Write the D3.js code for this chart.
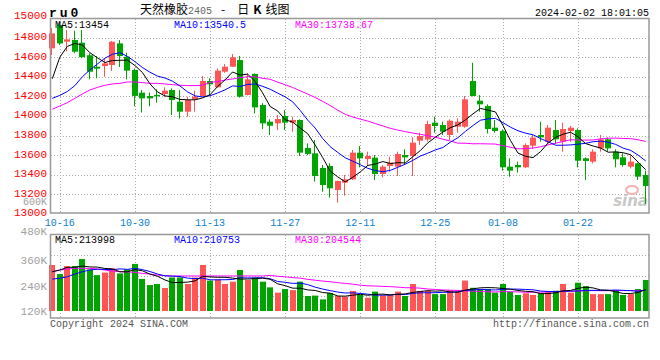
<!DOCTYPE html>
<html>
<head>
<meta charset="utf-8">
<script src="https://cdn.jsdelivr.net/npm/d3@7/dist/d3.min.js"></script>
<style>
body { margin: 0; background: #fff; }
svg { display: block; }
</style>
</head>
<body>
<svg id="chart" width="660" height="360"></svg>
<script>
// trading days shown on the chart
const dates = [
    '10-13','10-16','10-17','10-18','10-19','10-20','10-23','10-24','10-25','10-26',
    '10-27','10-30','10-31','11-01','11-02','11-03','11-06','11-07','11-08','11-09',
    '11-10','11-13','11-14','11-15','11-16','11-17','11-20','11-21','11-22','11-23',
    '11-24','11-27','11-28','11-29','11-30','12-01','12-04','12-05','12-06','12-07',
    '12-08','12-11','12-12','12-13','12-14','12-15','12-18','12-19','12-20','12-21',
    '12-22','12-25','12-26','12-27','12-28','12-29','01-02','01-03','01-04','01-05',
    '01-08','01-09','01-10','01-11','01-12','01-15','01-16','01-17','01-18','01-19',
    '01-22','01-23','01-24','01-25','01-26','01-29','01-30','01-31','02-01','02-02'
];

const opens = [
    14690,14928,14758,14776,14748,14620,14503,14510,14520,14741,
    14605,14470,14238,14204,14215,14224,14265,14146,14044,14170,
    14204,14357,14293,14452,14503,14571,14214,14429,14112,13942,
    13925,14000,13932,13959,13674,13619,13470,13490,13245,13320,
    13354,13626,13561,13575,13408,13490,13483,13602,13592,13748,
    13760,13932,13908,13806,13891,13891,14357,14156,14102,13881,
    13847,13483,13500,13476,13697,13806,13738,13857,13738,13847,
    13857,13568,13534,13670,13762,13636,13578,13483,13517,13398
];
const closes = [
    14843,14741,14782,14656,14600,14452,14483,14537,14758,14612,
    14463,14205,14180,14180,14200,14258,14163,14044,14163,14197,
    14357,14323,14463,14503,14599,14197,14374,14088,13925,13901,
    13969,13932,13959,13626,13612,13388,13296,13262,13337,13354,
    13626,13568,13592,13408,13483,13524,13612,13578,13728,13796,
    13918,13898,13840,13952,13942,14170,14204,14119,13867,13847,
    13476,13442,13476,13704,13779,13782,13881,13762,13867,13881,
    13544,13541,13636,13762,13670,13558,13500,13534,13381,13286
];
const highs = [
    14895,14946,14877,14871,14878,14640,14610,14590,14765,14776,
    14646,14485,14265,14240,14272,14292,14282,14265,14197,14258,
    14408,14385,14486,14530,14633,14612,14435,14435,14130,13966,
    14010,14061,13993,13966,13720,13755,13500,13517,13340,13398,
    13653,13694,13636,13602,13500,13585,13636,13660,13782,13830,
    13952,13993,13942,13966,13976,14204,14544,14214,14119,13959,
    13864,13568,13534,13721,13806,13942,13908,13959,13932,13898,
    13874,13578,13660,13806,13782,13660,13619,13602,13524,13442
];
const lows = [
    14622,14724,14660,14640,14590,14375,14385,14400,14460,14500,
    14374,14100,14035,14100,14136,14197,14010,13976,13993,14044,
    14200,14214,14290,14440,14500,14187,14210,14027,13867,13806,
    13857,13857,13840,13592,13600,13330,13228,13167,13116,13187,
    13347,13476,13490,13347,13374,13432,13388,13507,13388,13704,
    13740,13830,13806,13755,13830,13880,14200,14044,13823,13830,
    13442,13381,13422,13470,13663,13738,13721,13714,13636,13738,
    13476,13347,13517,13636,13636,13476,13483,13466,13347,13102
];
// volume in thousands of lots
const volumes = [
    338,295,333,333,366,317,290,302,322,298,
    317,343,272,243,248,229,279,279,248,278,
    338,264,270,248,259,314,267,279,259,232,
    207,224,219,259,191,193,175,205,191,188,
    215,196,183,212,194,196,212,191,248,215,
    216,200,200,219,212,264,230,224,224,207,
    248,212,196,204,196,204,212,216,248,207,
    254,238,200,200,200,219,196,200,224,267
];

// moving average values for the first days (history before the window)
const ma5Head = [14380, 14600, 14710, 14740];
const ma10Head = [14180, 14210, 14250, 14310, 14400, 14470, 14530, 14590, 14630];
const ma30Head = [
    14068,14102,14136,14180,14225,14265,14292,14313,14327,14333,
    14347,14347,14340,14333,14333,14327,14320,14313,14310,14310,
    14313,14344,14350,14367,14378,14391,14401,14401,14384
];
const volMa5Head = [306, 314, 327, 327];
const volMa10Head = [271, 275, 282, 295, 306, 314, 318, 317, 316];
const volMa30Head = [
    306,314,319,322,322,322,319,314,309,306,
    305,303,298,295,290,287,286,286,286,286,
    286,286,286,286,286,286,286,286,286
];

const priceTicks = [15000,14800,14600,14400,14200,14000,13800,13600,13400,13200,13000];
const volTicks = [480, 360, 240, 120];
const xTicks = ['10-16','10-30','11-13','11-27','12-11','12-25','01-08','01-22'];
const priceMaLabels = ['MA5:13454', 'MA10:13540.5', 'MA30:13738.67'];
const volMaLabels = ['MA5:213998', 'MA10:210753', 'MA30:204544'];

const mono = '"Liberation Mono", "DejaVu Sans Mono", monospace';
const cjk = '"Noto Sans CJK SC", sans-serif';
const RED = '#ff5555', GREEN = '#00a400';
const maColors = ['#000000', '#0000ff', '#ff00ff'];

const svg = d3.select('#chart');

const x = d3.scalePoint().domain(dates).range([52.3, 645.7]);
const y = d3.scaleLinear().domain([13000, 15000]).range([214, 18]);
const vy = d3.scaleLinear().domain([120, 480]).range([311, 235]);

const px = d => Math.round(x(d));
const up = i => closes[i] >= opens[i];

const movingAvg = (vals, n, head) => vals.map((v, i) =>
    i < n - 1 ? head[i] : d3.mean(vals.slice(i - n + 1, i + 1)));

// ---- grid ----
const grid = svg.append('g')
    .attr('stroke', '#aaa')
    .attr('stroke-dasharray', '1,2');

grid.selectAll('line.h')
    .data(priceTicks.slice(1, -1))
    .join('line')
    .attr('x1', 51).attr('x2', 649)
    .attr('y1', d => Math.round(y(d)) + 0.5)
    .attr('y2', d => Math.round(y(d)) + 0.5);

const vGrid = [255, 275.5, 296];
grid.selectAll('line.vh')
    .data(vGrid)
    .join('line')
    .attr('x1', 51).attr('x2', 649)
    .attr('y1', d => Math.round(d) + 0.5)
    .attr('y2', d => Math.round(d) + 0.5);

xTicks.forEach(d => {
    grid.append('line')
        .attr('x1', px(d) + 0.5).attr('x2', px(d) + 0.5)
        .attr('y1', 19).attr('y2', 213);
    grid.append('line')
        .attr('x1', px(d) + 0.5).attr('x2', px(d) + 0.5)
        .attr('y1', 235).attr('y2', 318);
});

// ---- sina watermark ----
const wm = svg.append('g');
wm.append('ellipse')
    .attr('cx', 632).attr('cy', 190).attr('rx', 6).attr('ry', 4)
    .attr('fill', 'none').attr('stroke', '#f3b3b3').attr('stroke-width', 2);
wm.append('text')
    .attr('x', 648).attr('y', 206)
    .attr('text-anchor', 'end')
    .attr('font-family', '"DejaVu Sans", sans-serif')
    .attr('font-size', 15).attr('font-weight', 'bold').attr('font-style', 'italic')
    .attr('fill', '#c8c8c8')
    .text('sina');

// ---- candles ----
const idx = d3.range(dates.length);
const candles = svg.append('g');

candles.selectAll('rect.wick')
    .data(idx)
    .join('rect')
    .attr('x', i => px(dates[i]) - 1)
    .attr('width', 1)
    .attr('y', i => y(highs[i]))
    .attr('height', i => y(lows[i]) - y(highs[i]))
    .attr('fill', i => up(i) ? RED : GREEN);

candles.selectAll('rect.body')
    .data(idx)
    .join('rect')
    .attr('x', i => px(dates[i]) - 3)
    .attr('width', 6)
    .attr('y', i => y(Math.max(opens[i], closes[i])))
    .attr('height', i => Math.max(1, Math.abs(y(opens[i]) - y(closes[i]))))
    .attr('fill', i => up(i) ? RED : GREEN);

// ---- volume bars ----
svg.append('g').selectAll('rect')
    .data(idx)
    .join('rect')
    .attr('x', i => px(dates[i]) - 3)
    .attr('width', 6)
    .attr('y', i => vy(volumes[i]))
    .attr('height', i => vy(120) - vy(volumes[i]))
    .attr('fill', i => up(i) ? RED : GREEN);

// ---- moving averages ----
svg.append('clipPath').attr('id', 'clipP')
    .append('rect').attr('x', 51).attr('y', 19).attr('width', 598).attr('height', 194);
svg.append('clipPath').attr('id', 'clipV')
    .append('rect').attr('x', 51).attr('y', 235).attr('width', 598).attr('height', 83);

const priceMa = [movingAvg(closes, 5, ma5Head), movingAvg(closes, 10, ma10Head), movingAvg(closes, 30, ma30Head)];
const volMa = [movingAvg(volumes, 5, volMa5Head), movingAvg(volumes, 10, volMa10Head), movingAvg(volumes, 30, volMa30Head)];

const pLine = d3.line().x((d, i) => x(dates[i])).y(d => y(d));
const vLine = d3.line().x((d, i) => x(dates[i])).y(d => vy(d));

svg.append('g').attr('clip-path', 'url(#clipP)')
    .selectAll('path')
    .data(priceMa.slice().reverse())
    .join('path')
    .attr('d', pLine)
    .attr('fill', 'none')
    .attr('stroke', (d, i) => maColors[2 - i])
    .attr('stroke-width', 1);

svg.append('g').attr('clip-path', 'url(#clipV)')
    .selectAll('path')
    .data(volMa.slice().reverse())
    .join('path')
    .attr('d', vLine)
    .attr('fill', 'none')
    .attr('stroke', (d, i) => maColors[2 - i])
    .attr('stroke-width', 1);

// ---- frames ----
svg.append('rect')
    .attr('x', 50.5).attr('y', 18.5).attr('width', 598.5).attr('height', 194.5)
    .attr('fill', 'none').attr('stroke', '#999').attr('stroke-width', 1.5);
svg.append('rect')
    .attr('x', 50.5).attr('y', 234.5).attr('width', 598.5).attr('height', 83.5)
    .attr('fill', 'none').attr('stroke', '#999').attr('stroke-width', 1.5);

// ---- axis labels ----
svg.append('g').selectAll('text')
    .data(priceTicks)
    .join('text')
    .attr('x', 47)
    .attr('y', (d, i) => y(d) - (i === 0 ? 3 : 1.5))
    .attr('dy', '0.35em')
    .attr('text-anchor', 'end')
    .attr('font-family', mono).attr('font-size', 11)
    .attr('fill', '#ff0000')
    .text(d => d);

svg.append('text')
    .attr('x', 47).attr('y', 201).attr('dy', '0.35em')
    .attr('text-anchor', 'end')
    .attr('font-family', mono).attr('font-size', 10)
    .attr('fill', '#a0a0a0')
    .text('600K');

svg.append('g').selectAll('text')
    .data(volTicks)
    .join('text')
    .attr('x', 47)
    .attr('y', (d, i) => i === 0 ? 231 : vy(d))
    .attr('dy', '0.35em')
    .attr('text-anchor', 'end')
    .attr('font-family', mono).attr('font-size', 11)
    .attr('fill', '#a0a0a0')
    .text(d => d + 'K');

svg.append('g').selectAll('text')
    .data(xTicks)
    .join('text')
    .attr('x', d => x(d))
    .attr('y', 222).attr('dy', '0.35em')
    .attr('text-anchor', 'middle')
    .attr('font-family', mono).attr('font-size', 10)
    .attr('fill', '#0a80d0')
    .text(d => d);

// ---- legends ----
const legendX = [55, 174, 295];
svg.append('g').selectAll('text')
    .data(priceMaLabels)
    .join('text')
    .attr('x', (d, i) => legendX[i])
    .attr('y', 24).attr('dy', '0.35em')
    .attr('font-family', mono).attr('font-size', 10)
    .attr('fill', (d, i) => maColors[i])
    .text(d => d);

svg.append('g').selectAll('text')
    .data(volMaLabels)
    .join('text')
    .attr('x', (d, i) => legendX[i])
    .attr('y', 239).attr('dy', '0.35em')
    .attr('font-family', mono).attr('font-size', 10)
    .attr('fill', (d, i) => maColors[i])
    .text(d => d);

// ---- titles ----
svg.append('text')
    .attr('x', 49).attr('y', 12).attr('dy', '0.35em')
    .attr('font-family', mono).attr('font-size', 13).attr('font-weight', 'bold')
    .attr('letter-spacing', 3)
    .text('ru0');

const title = svg.append('text')
    .attr('x', 140).attr('y', 10).attr('dy', '0.35em')
    .attr('font-family', cjk).attr('font-size', 12)
    .attr('fill', '#000');
title.append('tspan').text('天然橡胶');
title.append('tspan').attr('font-family', mono).attr('font-size', 10).attr('fill', '#666').text('2405');
title.append('tspan').attr('dx', 9).text('-');
title.append('tspan').attr('dx', 12).text('日');
title.append('tspan').attr('dx', 4).attr('font-weight', 'bold').text('K');
title.append('tspan').attr('dx', 4).text('线图');

svg.append('text')
    .attr('x', 649).attr('y', 12).attr('dy', '0.35em')
    .attr('text-anchor', 'end')
    .attr('font-family', mono).attr('font-size', 10)
    .text('2024-02-02 18:01:05');

svg.append('text')
    .attr('x', 50).attr('y', 323).attr('dy', '0.35em')
    .attr('font-family', mono).attr('font-size', 10)
    .attr('fill', '#555')
    .text('Copyright 2024 SINA.COM');

svg.append('text')
    .attr('x', 649).attr('y', 323).attr('dy', '0.35em')
    .attr('text-anchor', 'end')
    .attr('font-family', mono).attr('font-size', 10)
    .attr('fill', '#555')
    .text('http://finance.sina.com.cn');
</script>
</body>
</html>
